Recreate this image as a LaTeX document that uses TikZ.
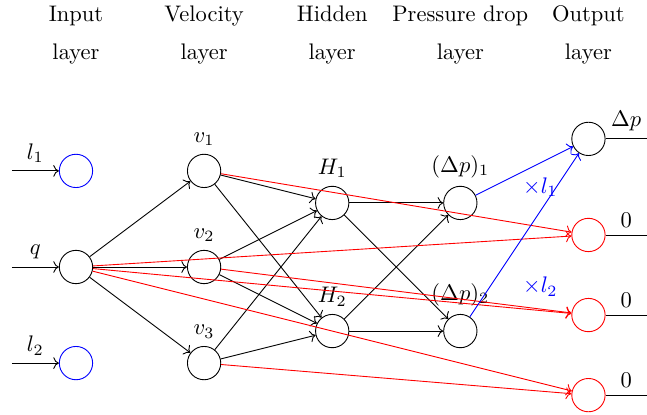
\documentclass[tikz,border=0pt]{standalone}
\usepackage{amsmath}
\usetikzlibrary{positioning, arrows.meta}

\begin{document}
\begin{tikzpicture}[
    neuron/.style={circle, draw, minimum size=0.52cm, inner sep=0pt},
    layer_title/.style={align=center},
    conn/.style={->},
    conn_zero/.style={->, red},
    conn_scale/.style={->, blue}
]
\useasboundingbox (-1.186,-2.31) rectangle (8.914,4.168);

% Macros for repeated positions
\def\yTitle{3.62}
\def\xEnd{8.914}

% ==========================================
% Layer titles
\node[layer_title] (t_in)  at (0,\yTitle) {Input\\[5pt]layer};
\node[layer_title] (t_vel) at (2,\yTitle) {Velocity\\[5pt]layer};
\node[layer_title] (t_hid) at (4,\yTitle) {Hidden\\[5pt]layer};
\node[layer_title] (t_dp)  at (6,\yTitle) {Pressure drop\\[5pt]layer};
\node[layer_title] (t_out) at (8,\yTitle) {Output\\[5pt]layer};

% ==========================================
% Input layer
\node[neuron, blue] (l1) at (0,1.5) {};
\node[neuron] (q) at (0,0) {};
\node[neuron, blue] (l2) at (0,-1.5) {};
\coordinate (in_l1) at (-1,1.5);
\coordinate (in_q) at (-1,0);
\coordinate (in_l2) at (-1,-1.5);
\draw[conn] (in_l1) -- (l1) node[midway, above] {$l_1$};
\draw[conn] (in_q) -- (q) node[midway, above] {$q$};
\draw[conn] (in_l2) -- (l2) node[midway, above] {$l_2$};

% ==========================================
% Velocity layer
\node[neuron, label=above:{$v_1$}] (v1) at (2,1.5) {};
\node[neuron, label=above:{$v_2$}] (v2) at (2,0) {};
\node[neuron, label=above:{$v_3$}] (v3) at (2,-1.5) {};

% Hidden layer
\node[neuron, label=above:{$H_1$}] (h1) at (4,1) {};
\node[neuron, label=above:{$H_2$}] (h2) at (4,-1) {};

% Pressure drop layer
\node[neuron, label=above:{$(\Delta p)_1$}] (dp1) at (6,1) {};
\node[neuron, label=above:{$(\Delta p)_2$}] (dp2) at (6,-1) {};

% Output layer
\node[neuron] (o1) at (8,2) {};
\node[neuron, red] (o2) at (8,0.5) {};
\node[neuron, red] (o3) at (8,-0.75) {};
\node[neuron, red] (o4) at (8,-2) {};
\coordinate (out1) at (\xEnd,2);
\coordinate (out2) at (\xEnd,0.5);
\coordinate (out3) at (\xEnd,-0.75);
\coordinate (out4) at (\xEnd,-2);
\draw (o1) -- (out1) node[midway, above] {$\Delta p$};
\draw (o2) -- (out2) node[midway, above] {$0$};
\draw (o3) -- (out3) node[midway, above] {$0$};
\draw (o4) -- (out4) node[midway, above] {$0$};

% ==========================================
% Connections
\foreach \v in {v1,v2,v3} {
    \draw[conn] (q) -- (\v);
    \draw[conn] (\v) -- (h1);
    \draw[conn] (\v) -- (h2);
}
\foreach \h in {h1,h2} {
    \draw[conn] (\h) -- (dp1);
    \draw[conn] (\h) -- (dp2);
}

% Zero outputs
\draw[conn_zero] (q) -- (o2);
\draw[conn_zero] (q) -- (o3);
\draw[conn_zero] (q) -- (o4);
\draw[conn_zero] (v1) -- (o2);
\draw[conn_zero] (v2) -- (o3);
\draw[conn_zero] (v3) -- (o4);

% Scaled pressure drops
\draw[conn_scale] (dp1) -- (o1);
\draw[conn_scale] (dp2) -- (o1);
\node[blue] (x_l1) at (7.25,1.25) {$\times l_1$};
\node[blue] (x_l2) at (7.25,-0.31) {$\times l_2$};

\end{tikzpicture}
\end{document}
